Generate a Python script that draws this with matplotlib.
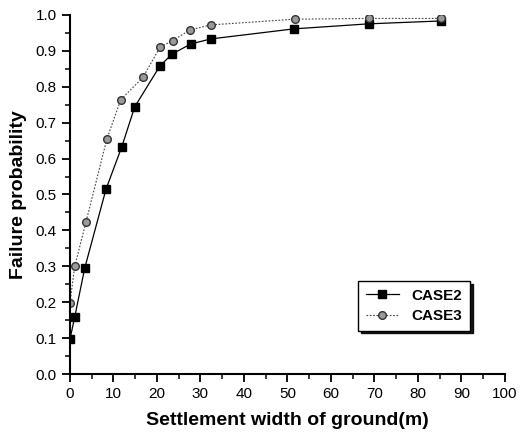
import matplotlib
matplotlib.use("Agg")
import matplotlib.pyplot as plt
from matplotlib.ticker import MultipleLocator

plt.rcParams['font.family'] = ['Liberation Sans', 'DejaVu Sans']

# settlement width (m) and failure probability
x_case2 = [0, 1.1, 3.4, 8.3, 11.9, 14.9, 20.7, 23.5, 27.8, 32.4, 51.5, 68.7, 85.3]
p_case2 = [0.097, 0.159, 0.295, 0.515, 0.632, 0.744, 0.858, 0.891, 0.919, 0.933, 0.961, 0.975, 0.983]

x_case3 = [0, 1.1, 3.7, 8.5, 11.7, 16.8, 20.7, 23.6, 27.6, 32.4, 51.7, 68.7, 85.3]
p_case3 = [0.198, 0.300, 0.424, 0.655, 0.764, 0.826, 0.910, 0.928, 0.958, 0.972, 0.988, 0.990, 0.990]

fig = plt.figure(figsize=(5.22, 4.37), dpi=100)
ax = fig.add_axes([0.134, 0.144, 0.833, 0.822])

ax.plot(x_case2, p_case2, color='black', lw=0.9, marker='s', ms=5.5,
        mfc='black', mec='black', label='CASE2')
ax.plot(x_case3, p_case3, color='#444444', lw=0.8, ls=(0, (1.5, 1.5)), marker='o', ms=5.5,
        mfc='#9a9a9a', mec='#333333', mew=1.0, label='CASE3')

ax.set_xlim(0, 100)
ax.set_ylim(0, 1.0)
ax.xaxis.set_major_locator(MultipleLocator(10))
ax.xaxis.set_minor_locator(MultipleLocator(5))
ax.yaxis.set_major_locator(MultipleLocator(0.1))
ax.yaxis.set_minor_locator(MultipleLocator(0.05))
ax.yaxis.set_major_formatter(plt.FuncFormatter(lambda v, p: f'{v:.1f}'))

for s in ['top', 'right']:
    ax.spines[s].set_visible(False)
for s in ['left', 'bottom']:
    ax.spines[s].set_linewidth(1.5)

ax.tick_params(which='major', direction='out', length=6, width=1.3, labelsize=11)
ax.tick_params(which='minor', direction='out', length=3.5, width=1.1)

ax.set_xlabel('Settlement width of ground(m)', fontsize=14, fontweight='bold', labelpad=8)
ax.set_ylabel('Failure probability', fontsize=14, fontweight='bold', labelpad=6)

leg = ax.legend(loc='lower left', bbox_to_anchor=(0.645, 0.1), fontsize=11,
                frameon=True, fancybox=False, shadow={'ox': 2, 'oy': -2, 'color': 'black', 'alpha': 0.9},
                handlelength=2.2, borderpad=0.5, labelspacing=0.4,
                prop={'weight': 'bold', 'size': 11})
leg.get_frame().set_edgecolor('black')
leg.get_frame().set_linewidth(1.0)

fig.savefig('out.png', dpi=100)
